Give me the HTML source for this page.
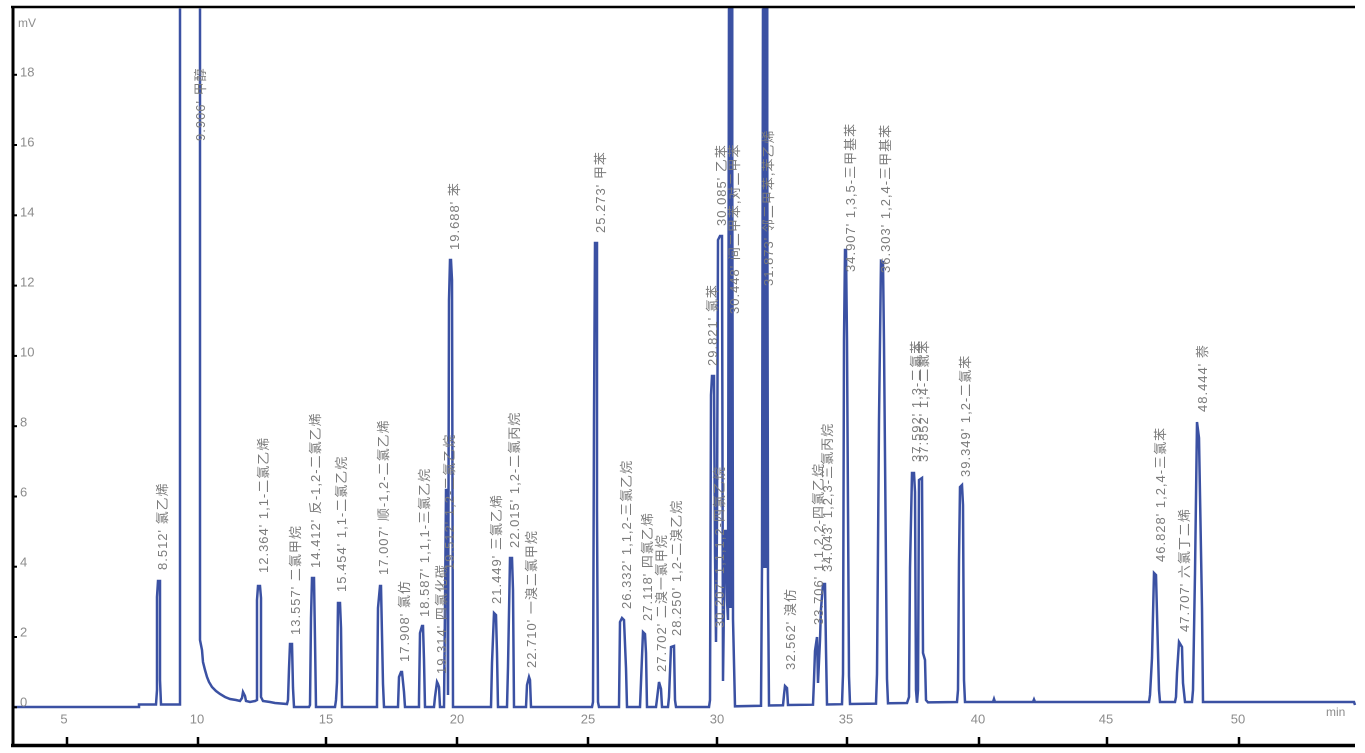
<!DOCTYPE html>
<html>
<head>
<meta charset="utf-8">
<style>
  html,body{margin:0;padding:0;background:#fff;}
  svg{display:block;}
  .lb{font-family:"Liberation Sans","Noto Sans CJK SC",sans-serif;font-size:13px;fill:#7b7b7b;letter-spacing:1px;}
  .ax{font-family:"Liberation Sans",sans-serif;font-size:13px;fill:#8c8c8c;}
</style>
</head>
<body>
<svg width="1365" height="753" viewBox="0 0 1365 753" xmlns="http://www.w3.org/2000/svg">
  <defs>
    <clipPath id="plot"><rect x="14" y="8.5" width="1345" height="735"/></clipPath>
  </defs>

  <!-- solid bands for the saturated peaks -->
  <rect x="728" y="8" width="5.5" height="600" fill="#3b51a3"/>
  <rect x="762.5" y="8" width="6" height="560" fill="#3b51a3"/>

  <!-- trace -->
  <polyline clip-path="url(#plot)" fill="none" stroke="#3b51a3" stroke-width="2.5" stroke-linejoin="miter" points="
  14,707 139,707 139,704.5 156,704.5
  157,690 157,597 158,581 160,581 160,680 161,704.5
  180,704.5 180,-5 200,-5 200,640 202,650 203,662 205,670 207,677 209,682 212,687 216,691 220,694 225,697 230,699 236,700 240,701 242,698 243,692 245,696 246,701 250,702 255,701 257,700
  257,600 258,586 260,586 261,598 261,697 263,701 270,702 275,703 287,704
  288,700 289,669 290,644 292,644 293,688 294,707 309,707
  310,705 311,618 312,578 314,578 315,640 316,707 335,707
  336,700 337,682 338,603 340,603 341,628 342,707 377,707
  377,702 378,608 380,586 381,586 383,684 384,707 398,707
  399,677 401,672 402,672 404,692 405,707 419,707
  419,700 420,633 422,626 423,626 424,660 425,707 434,707
  435,697 437,682 438,684 439,687 440,707 444,707
  445,607 446,490 447,490 448,695 449,300 450,260 451,260 452,280 453,707 491,707
  492,663 494,613 496,615 497,653 498,707 507,707
  508,667 510,558 512,558 513,590 514,707 526,707
  527,685 529,677 530,680 531,707 592,707
  593,702 594,418 595,243 597,243 597,510 598,702 599,707 619,707
  620,622 622,618 624,620 626,668 627,707 640,707
  641,682 643,632 645,634 646,653 647,707 656,707
  657,699 659,682 661,689 662,707 668,707
  669,697 671,647 674,646 675,700 676,707 709,707
  710,700 711,395 712,376 714,376 715,554 716,642 717,520 718,240 720,236 722,236 723,681 724,600 725,531 726,531 727,600 728,620 729,-5 732,-5 733,619 735,706.3 761,705.8
  762,566 763,-5 767,-5 768,580 769,705.5 783,705.3
  784,695 785,686 787,688 788,705 813,704.7
  814,680 815,651 817,637 818,683 820,640 821,609 823,584 825,584 826,650 827,704.5 842,704.2
  843,674 844,340 845,250 846,250 847,340 849,676 850,704 876,703.6
  877,674 879,420 881,261 883,262 884,344 887,679 888,703.3 907,703
  909,697 910,568 912,473 914,473 915,492 916,690 917,702.8 918,690 919,480 922,478 923,653 925,660 926,700 928,702.4 957,702
  958,690 959,560 960,487 962,485 963,505 964,680 965,702 993,702 994,699 995,702 1033,702 1034,699.5 1035,702 1149,702
  1150,695 1152,658 1154,573 1156,575 1158,652 1159,690 1160,702 1175,702
  1176,697 1177,673 1179,642 1182,647 1183,683 1185,702 1192,702
  1193,690 1195,573 1197,422 1199,438 1202,608 1203,702 1354,702 1355,705"/>

  <!-- frame -->
  <line x1="11" y1="7" x2="1355" y2="7" stroke="#000" stroke-width="2.5"/>
  <line x1="13" y1="6" x2="13" y2="747" stroke="#000" stroke-width="3"/>
  <line x1="11" y1="745.5" x2="1355" y2="745.5" stroke="#000" stroke-width="3.5"/>

  <!-- y ticks -->
  <g stroke="#000" stroke-width="2">
    <line x1="14" y1="707.3" x2="17" y2="707.3"/>
    <line x1="14" y1="637" x2="17" y2="637"/>
    <line x1="14" y1="566.7" x2="17" y2="566.7"/>
    <line x1="14" y1="496.5" x2="17" y2="496.5"/>
    <line x1="14" y1="426.2" x2="17" y2="426.2"/>
    <line x1="14" y1="355.9" x2="17" y2="355.9"/>
    <line x1="14" y1="285.6" x2="17" y2="285.6"/>
    <line x1="14" y1="215.3" x2="17" y2="215.3"/>
    <line x1="14" y1="145" x2="17" y2="145"/>
    <line x1="14" y1="74.8" x2="17" y2="74.8"/>
  </g>
  <g class="ax">
    <text x="18" y="27" style="font-size:12px">mV</text>
    <text x="20" y="706.5">0</text>
    <text x="20" y="636.5">2</text>
    <text x="20" y="566.5">4</text>
    <text x="20" y="496.5">6</text>
    <text x="20" y="426.5">8</text>
    <text x="20" y="356.5">10</text>
    <text x="20" y="286.5">12</text>
    <text x="20" y="216.5">14</text>
    <text x="20" y="146.5">16</text>
    <text x="20" y="76.5">18</text>
  </g>

  <!-- x ticks -->
  <g stroke="#000" stroke-width="2.5">
    <line x1="67" y1="737" x2="67" y2="745"/>
    <line x1="198" y1="737" x2="198" y2="745"/>
    <line x1="326" y1="737" x2="326" y2="745"/>
    <line x1="457" y1="737" x2="457" y2="745"/>
    <line x1="588" y1="737" x2="588" y2="745"/>
    <line x1="717" y1="737" x2="717" y2="745"/>
    <line x1="847" y1="737" x2="847" y2="745"/>
    <line x1="979" y1="737" x2="979" y2="745"/>
    <line x1="1107" y1="737" x2="1107" y2="745"/>
    <line x1="1239" y1="737" x2="1239" y2="745"/>
  </g>
  <g class="ax" text-anchor="middle">
    <text x="64" y="723.5">5</text>
    <text x="197" y="723.5">10</text>
    <text x="326" y="723.5">15</text>
    <text x="457" y="723.5">20</text>
    <text x="588" y="723.5">25</text>
    <text x="717" y="723.5">30</text>
    <text x="846" y="723.5">35</text>
    <text x="978" y="723.5">40</text>
    <text x="1106" y="723.5">45</text>
    <text x="1238" y="723.5">50</text>
  </g>
  <text class="ax" x="1326" y="716" style="font-size:12px">min</text>

  <!-- peak labels -->
  <g class="lb">
    <text transform="translate(166.8,570) rotate(-90)">8.512' 氯乙烯</text>
    <text transform="translate(204.8,141) rotate(-90)">9.906' 甲醇</text>
    <text transform="translate(267.8,573) rotate(-90)">12.364' 1,1-二氯乙烯</text>
    <text transform="translate(299.8,635) rotate(-90)">13.557' 二氯甲烷</text>
    <text transform="translate(319.8,568) rotate(-90)">14.412' 反-1,2-二氯乙烯</text>
    <text transform="translate(345.8,592) rotate(-90)">15.454' 1,1-二氯乙烷</text>
    <text transform="translate(387.8,575) rotate(-90)">17.007' 顺-1,2-二氯乙烯</text>
    <text transform="translate(408.8,662) rotate(-90)">17.908' 氯仿</text>
    <text transform="translate(428.8,617) rotate(-90)">18.587' 1,1,1-三氯乙烷</text>
    <text transform="translate(445.8,674) rotate(-90)">19.314' 四氯化碳</text>
    <text transform="translate(453.8,570) rotate(-90)">19.512' 1,2-二氯乙烷</text>
    <text transform="translate(458.8,250) rotate(-90)">19.688' 苯</text>
    <text transform="translate(500.8,604) rotate(-90)">21.449' 三氯乙烯</text>
    <text transform="translate(518.8,548) rotate(-90)">22.015' 1,2-二氯丙烷</text>
    <text transform="translate(535.8,668) rotate(-90)">22.710' 一溴二氯甲烷</text>
    <text transform="translate(604.8,233) rotate(-90)">25.273' 甲苯</text>
    <text transform="translate(630.8,609) rotate(-90)">26.332' 1,1,2-三氯乙烷</text>
    <text transform="translate(651.8,621) rotate(-90)">27.118' 四氯乙烯</text>
    <text transform="translate(665.8,672) rotate(-90)">27.702' 二溴一氯甲烷</text>
    <text transform="translate(680.8,636) rotate(-90)">28.250' 1,2-二溴乙烷</text>
    <text transform="translate(716.8,366) rotate(-90)">29.821' 氯苯</text>
    <text transform="translate(723.8,628) rotate(-90)">30.207' 1,1,1,2-四氯乙烷</text>
    <text transform="translate(725.8,226) rotate(-90)">30.085' 乙苯</text>
    <text transform="translate(738.8,314) rotate(-90)">30.448' 间二甲苯,对二甲苯</text>
    <text transform="translate(772.8,286) rotate(-90)">31.873' 邻二甲苯,苯乙烯</text>
    <text transform="translate(794.8,670) rotate(-90)">32.562' 溴仿</text>
    <text transform="translate(822.8,625) rotate(-90)">33.706' 1,1,2,2-四氯乙烷</text>
    <text transform="translate(831.8,572) rotate(-90)">34.043' 1,2,3-三氯丙烷</text>
    <text transform="translate(854.8,272) rotate(-90)">34.907' 1,3,5-三甲基苯</text>
    <text transform="translate(889.8,273) rotate(-90)">36.303' 1,2,4-三甲基苯</text>
    <text transform="translate(920.8,462) rotate(-90)">37.592' 1,3-二氯苯</text>
    <text transform="translate(927.8,462) rotate(-90)">37.852' 1,4-二氯苯</text>
    <text transform="translate(969.8,477) rotate(-90)">39.349' 1,2-二氯苯</text>
    <text transform="translate(1164.8,562) rotate(-90)">46.828' 1,2,4-三氯苯</text>
    <text transform="translate(1188.8,632) rotate(-90)">47.707' 六氯丁二烯</text>
    <text transform="translate(1206.8,412) rotate(-90)">48.444' 萘</text>
  </g>
</svg>
</body>
</html>
